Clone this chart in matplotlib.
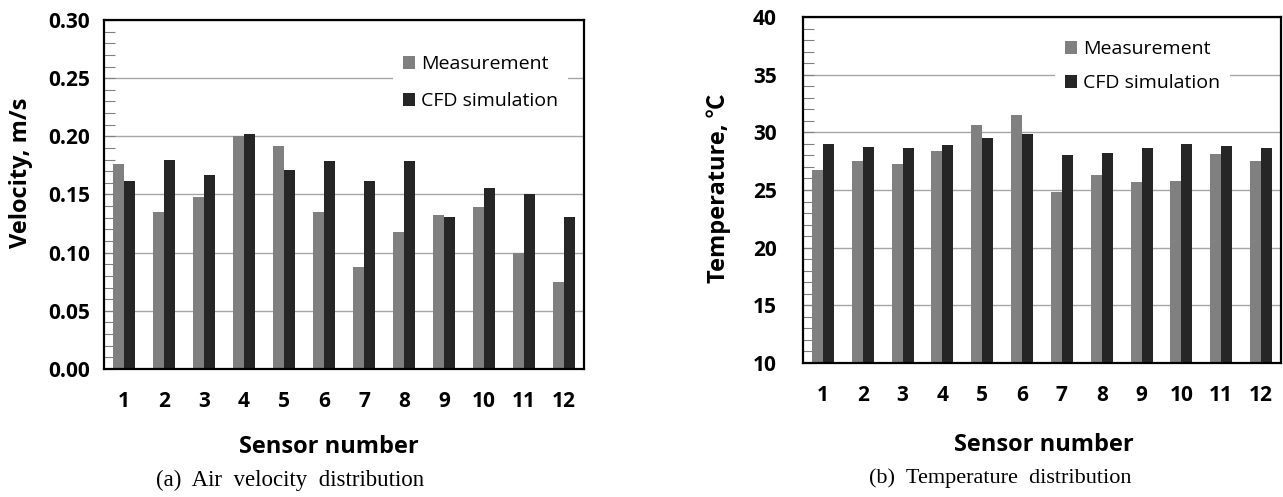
import matplotlib
matplotlib.use("Agg")
import matplotlib.pyplot as plt
import numpy as np
from matplotlib.ticker import MultipleLocator

sensors = [str(i) for i in range(1, 13)]
vel_meas = [0.176, 0.135, 0.148, 0.200, 0.192, 0.135, 0.088, 0.118, 0.132, 0.139, 0.100, 0.075]
vel_cfd = [0.162, 0.180, 0.167, 0.202, 0.171, 0.179, 0.162, 0.179, 0.131, 0.156, 0.150, 0.131]
temp_meas = [26.7, 27.5, 27.25, 28.4, 30.6, 31.5, 24.85, 26.3, 25.7, 25.8, 28.1, 27.55]
temp_cfd = [29.0, 28.7, 28.6, 28.9, 29.55, 29.85, 28.0, 28.2, 28.6, 29.0, 28.85, 28.6]
series_names = ["Measurement", "CFD simulation"]

C_MEAS = "#808080"
C_CFD = "#262626"
SANS = ["Open Sans", "DejaVu Sans"]

fig = plt.figure(figsize=(12.83, 4.97), dpi=100)
W, H = 1283, 497

def make_axes(px_left, px_right, px_top, px_bottom):
    return fig.add_axes([px_left / W, (H - px_bottom) / H,
                         (px_right - px_left) / W, (px_bottom - px_top) / H])

ax1 = make_axes(104, 584, 20, 369)
ax2 = make_axes(803, 1281, 17, 363)

bw = 0.275
x = np.arange(1, 13)

def draw(ax, meas, cfd, ylim, major, minor, ypad, legend_anchor, lspace, fmt):
    ax.set_axisbelow(True)
    ax.yaxis.grid(True, color="#a6a6a6", linewidth=1.0)
    ax.bar(x - bw / 2, meas, width=bw, color=C_MEAS, label=series_names[0], zorder=2)
    ax.bar(x + bw / 2, cfd, width=bw, color=C_CFD, label=series_names[1], zorder=2)
    ax.set_xlim(0.5, 12.5)
    ax.set_ylim(*ylim)
    ax.yaxis.set_minor_locator(MultipleLocator(minor))
    ticks = np.arange(ylim[0], ylim[1] + major / 2, major)
    ax.set_yticks(ticks)
    ax.set_yticklabels([fmt.format(v) for v in ticks])
    ax.set_xticks(x)
    ax.set_xticklabels(sensors)
    ax.tick_params(axis="y", which="both", direction="in", length=8, width=0.8,
                   color="#808080", pad=ypad)
    ax.tick_params(axis="x", which="both", length=0, pad=16)
    for lab in ax.get_xticklabels() + ax.get_yticklabels():
        lab.set_fontfamily(SANS)
        lab.set_fontweight("bold")
        lab.set_fontsize(15)
    for s in ax.spines.values():
        s.set_linewidth(1.6)
        s.set_color("black")
    leg = ax.legend(loc="upper left", bbox_to_anchor=legend_anchor, frameon=True,
                    fancybox=False, edgecolor="none", facecolor="white", framealpha=1,
                    prop={"family": SANS, "size": 14}, handlelength=0.65,
                    handleheight=0.65, handletextpad=0.3, labelspacing=lspace,
                    borderpad=0.5, borderaxespad=0)
    leg.set_zorder(5)

draw(ax1, vel_meas, vel_cfd, (0.0, 0.30), 0.05, 0.01, 10, (0.602, 0.928), 1.0, "{:.2f}")
draw(ax2, temp_meas, temp_cfd, (10, 40), 5, 1, 19, (0.527, 0.962), 0.83, "{:.0f}")

fig.text(21 / W, 1 - 173 / H, "Velocity, m/s", rotation=90, ha="center", va="center",
         fontsize=17, fontweight="bold", family=SANS)
fig.text(719 / W, 1 - 188 / H, "Temperature, ℃", rotation=90, ha="center", va="center",
         fontsize=17, fontweight="bold", family=["Open Sans", "Noto Sans CJK KR", "DejaVu Sans"])
fig.text(329 / W, 1 - 447 / H, "Sensor number", ha="center", va="center",
         fontsize=17, fontweight="bold", family=SANS)
fig.text(1044 / W, 1 - 445 / H, "Sensor number", ha="center", va="center",
         fontsize=17, fontweight="bold", family=SANS)
fig.text(290 / W, 1 - 480 / H, "(a)  Air  velocity  distribution", ha="center", va="center",
         fontsize=16.5, family=["Liberation Serif", "DejaVu Serif"])
fig.text(1000 / W, 1 - 478 / H, "(b)  Temperature  distribution", ha="center", va="center",
         fontsize=16, family=["Liberation Serif", "DejaVu Serif"])

fig.savefig("out.png", dpi=100)
